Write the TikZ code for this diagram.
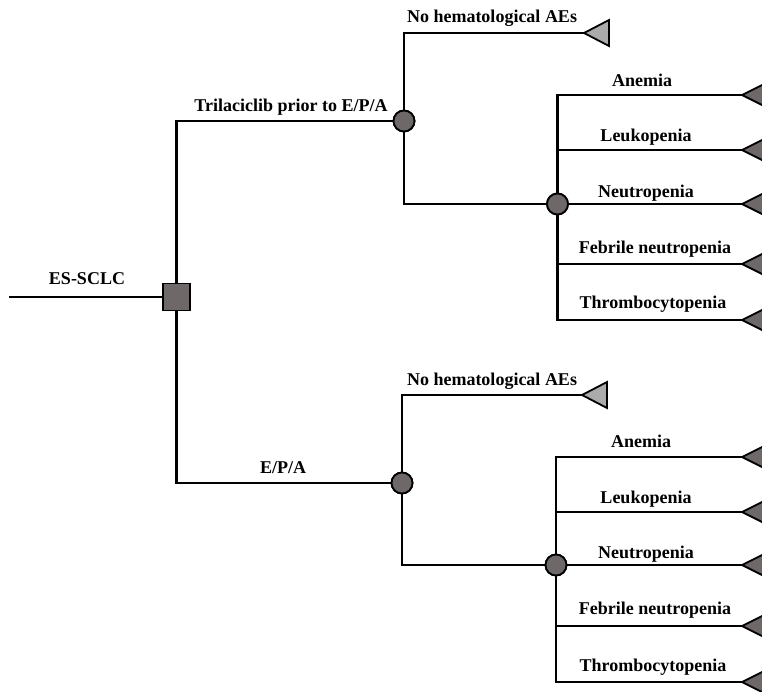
\documentclass[tikz,border=0pt]{standalone}
\usepackage{fontspec}
\setmainfont{Liberation Serif}
\usetikzlibrary{shapes.geometric}
\definecolor{darkfill}{HTML}{6E6869}
\definecolor{lightfill}{HTML}{ABABAB}
\tikzset{
  edge/.style={line width=2.2pt, line cap=rect},
  lbl/.style={font=\fontsize{18}{20}\selectfont\bfseries, anchor=base, inner sep=0pt},
  chance/.style={circle, draw, line width=1.8pt, fill=darkfill, minimum size=21pt, inner sep=0pt},
  decision/.style={rectangle, draw, line width=1.8pt, fill=darkfill, minimum size=27pt, inner sep=0pt},
  termlight/.style={isosceles triangle, shape border rotate=180, isosceles triangle stretches, draw, line width=1.8pt, fill=lightfill, minimum width=26pt, minimum height=25pt, inner sep=0pt, outer sep=0pt, anchor=apex},
  termdark/.style={isosceles triangle, shape border rotate=180, isosceles triangle stretches, draw, line width=1.8pt, fill=darkfill, minimum width=26pt, minimum height=26pt, inner sep=0pt, outer sep=0pt, anchor=apex}
}
\begin{document}
\begin{tikzpicture}[x=1pt,y=-1pt]
\useasboundingbox (0,0) rectangle (762,691);
% root
\coordinate (start) at (10,297);
\node[decision] (sq) at (176.5,297) {};
\node[lbl] at (87,284) {ES-SCLC};
% upper strategy
\node[chance] (c1) at (404,121) {};
\node[lbl] at (291,111) {Trilaciclib prior to E/P/A};
\node[termlight] (t1) at (584,33) {};
\node[lbl] at (492,22) {No hematological AEs};
\node[chance] (c2) at (557.5,204) {};
\node[termdark] (a1) at (742,95) {};
\node[termdark] (l1) at (742,150) {};
\node[termdark] (n1) at (742,204) {};
\node[termdark] (f1) at (742,264) {};
\node[termdark] (th1) at (742,320) {};
\node[lbl] at (642,86) {Anemia};
\node[lbl] at (646,141) {Leukopenia};
\node[lbl] at (646,197) {Neutropenia};
\node[lbl] at (655,253) {Febrile neutropenia};
\node[lbl] at (653,308) {Thrombocytopenia};
% lower strategy
\node[chance] (c3) at (402,483) {};
\node[lbl] at (283,473) {E/P/A};
\node[termlight] (t2) at (582,395) {};
\node[lbl] at (492,385) {No hematological AEs};
\node[chance] (c4) at (556,565) {};
\node[termdark] (a2) at (742,457) {};
\node[termdark] (l2) at (742,512) {};
\node[termdark] (n2) at (742,565) {};
\node[termdark] (f2) at (742,626) {};
\node[termdark] (th2) at (742,682) {};
\node[lbl] at (641,447) {Anemia};
\node[lbl] at (646,503) {Leukopenia};
\node[lbl] at (646,558) {Neutropenia};
\node[lbl] at (655,614) {Febrile neutropenia};
\node[lbl] at (653,671) {Thrombocytopenia};
% connectors
\draw[edge] (start) -- (sq);
\draw[edge] (sq) |- (c1);
\draw[edge] (sq) |- (c3);
\draw[edge] (c1) |- (t1.apex);
\draw[edge] (c1) |- (c2);
\draw[edge] (c3) |- (t2.apex);
\draw[edge] (c3) |- (c4);
\draw[edge] (c2) |- (a1.apex);
\draw[edge] (c2) |- (l1.apex);
\draw[edge] (c2) -- (n1.apex);
\draw[edge] (c2) |- (f1.apex);
\draw[edge] (c2) |- (th1.apex);
\draw[edge] (c4) |- (a2.apex);
\draw[edge] (c4) |- (l2.apex);
\draw[edge] (c4) -- (n2.apex);
\draw[edge] (c4) |- (f2.apex);
\draw[edge] (c4) |- (th2.apex);
% redraw shapes on top
\node[decision] at (sq) {};
\node[chance] at (c1) {};
\node[chance] at (c2) {};
\node[chance] at (c3) {};
\node[chance] at (c4) {};
\end{tikzpicture}
\end{document}
